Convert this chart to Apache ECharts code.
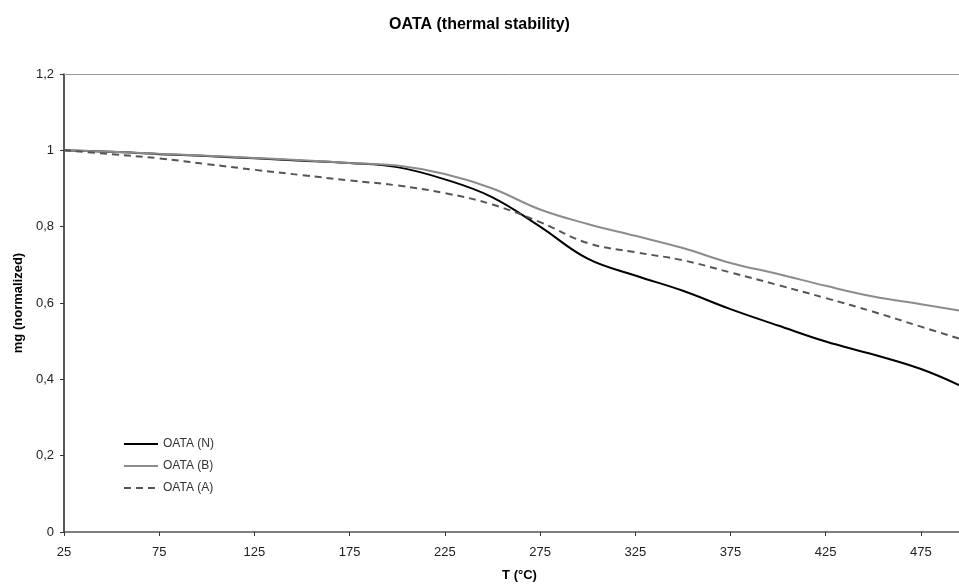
<!DOCTYPE html>
<html>
<head>
<meta charset="utf-8">
<script src="https://cdn.jsdelivr.net/npm/echarts@6/dist/echarts.min.js"></script>
<style>
	html, body { margin: 0; padding: 0; background: #fff; }
	#chart { width: 959px; height: 587px; }
</style>
</head>
<body>
<div id="chart"></div>
<script>
// temperatures (°C)
var temps = [25, 50, 75, 100, 125, 150, 175, 200, 225, 250, 275, 300, 325, 350, 375, 400, 425, 450, 475, 495];
// normalized mass
var oataN = [1.0, 0.996, 0.99, 0.985, 0.979, 0.973, 0.967, 0.956, 0.924, 0.877, 0.80, 0.716, 0.672, 0.632, 0.584, 0.541, 0.499, 0.465, 0.427, 0.385];
var oataB = [1.0, 0.996, 0.991, 0.986, 0.98, 0.974, 0.967, 0.96, 0.938, 0.90, 0.845, 0.807, 0.776, 0.744, 0.705, 0.676, 0.645, 0.617, 0.597, 0.58];
var oataA = [1.0, 0.99, 0.979, 0.964, 0.949, 0.935, 0.921, 0.908, 0.888, 0.858, 0.812, 0.757, 0.733, 0.712, 0.68, 0.647, 0.613, 0.577, 0.538, 0.507];
var xTicks = [25, 75, 125, 175, 225, 275, 325, 375, 425, 475];

(function () {
	let myChart = echarts.init(document.getElementById("chart"));
	function pairs(ys) {
		return temps.map(function (t, i) { return [t, ys[i]]; });
	}
	let font = "Liberation Sans, Arial, sans-serif";
	let option = {
		animation: false,
		textStyle: { fontFamily: font },
		title: {
			text: "OATA (thermal stability)",
			left: "center",
			top: 12,
			textStyle: { fontSize: 16, fontWeight: "bold", color: "#000", fontFamily: font }
		},
		legend: {
			orient: "vertical",
			left: 123,
			top: 438,
			padding: 0,
			itemWidth: 34,
			itemHeight: 12,
			itemGap: 10,
			itemStyle: { opacity: 0 },
			textStyle: { fontSize: 12, color: "#333" },
			data: ["OATA (N)", "OATA (B)", "OATA (A)"]
		},
		grid: {
			left: 64,
			right: 0,
			top: 74,
			bottom: 55,
			containLabel: false
		},
		xAxis: [
			{
				type: "value",
				min: 25,
				max: 495,
				name: "T (°C)",
				nameLocation: "middle",
				nameGap: 37,
				nameTextStyle: { fontSize: 13, fontWeight: "bold", color: "#000", padding: [0, 0, 0, 16] },
				axisLine: { lineStyle: { color: "#555", width: 1.5 } },
				axisTick: { show: true, length: 4, lineStyle: { color: "#333" }, customValues: xTicks },
				axisLabel: { fontSize: 13, color: "#222", margin: 14, customValues: xTicks },
				splitLine: { show: false }
			},
			{
				type: "value",
				position: "top",
				min: 25,
				max: 495,
				axisLine: { show: true, lineStyle: { color: "#999", width: 1 } },
				axisTick: { show: false },
				axisLabel: { show: false },
				splitLine: { show: false }
			}
		],
		yAxis: {
			type: "value",
			min: 0,
			max: 1.2,
			interval: 0.2,
			name: "mg (normalized)",
			nameLocation: "middle",
			nameGap: 32,
			nameTextStyle: { fontSize: 13, fontWeight: "bold", color: "#000" },
			axisLine: { show: true, lineStyle: { color: "#222", width: 1.5 } },
			axisTick: { show: true, length: 4, lineStyle: { color: "#333" } },
			axisLabel: {
				fontSize: 13,
				color: "#222",
				margin: 10,
				formatter: function (v) { return String(Math.round(v * 10) / 10).replace(".", ","); }
			},
			splitLine: { show: false }
		},
		series: [
			{
				name: "OATA (N)",
				type: "line",
				smooth: 0.4,
				symbol: "none",
				lineStyle: { color: "#000", width: 2 },
				itemStyle: { color: "#000" },
				data: pairs(oataN)
			},
			{
				name: "OATA (B)",
				type: "line",
				smooth: 0.4,
				symbol: "none",
				lineStyle: { color: "#8c8c8c", width: 2 },
				itemStyle: { color: "#8c8c8c" },
				data: pairs(oataB)
			},
			{
				name: "OATA (A)",
				type: "line",
				smooth: 0.4,
				symbol: "none",
				lineStyle: { color: "#555", width: 2, type: [7, 5] },
				itemStyle: { color: "#555" },
				data: pairs(oataA)
			}
		]
	};
	myChart.setOption(option);
	window.addEventListener("resize", function () {
		myChart.resize();
	});
})();
</script>
</body>
</html>
